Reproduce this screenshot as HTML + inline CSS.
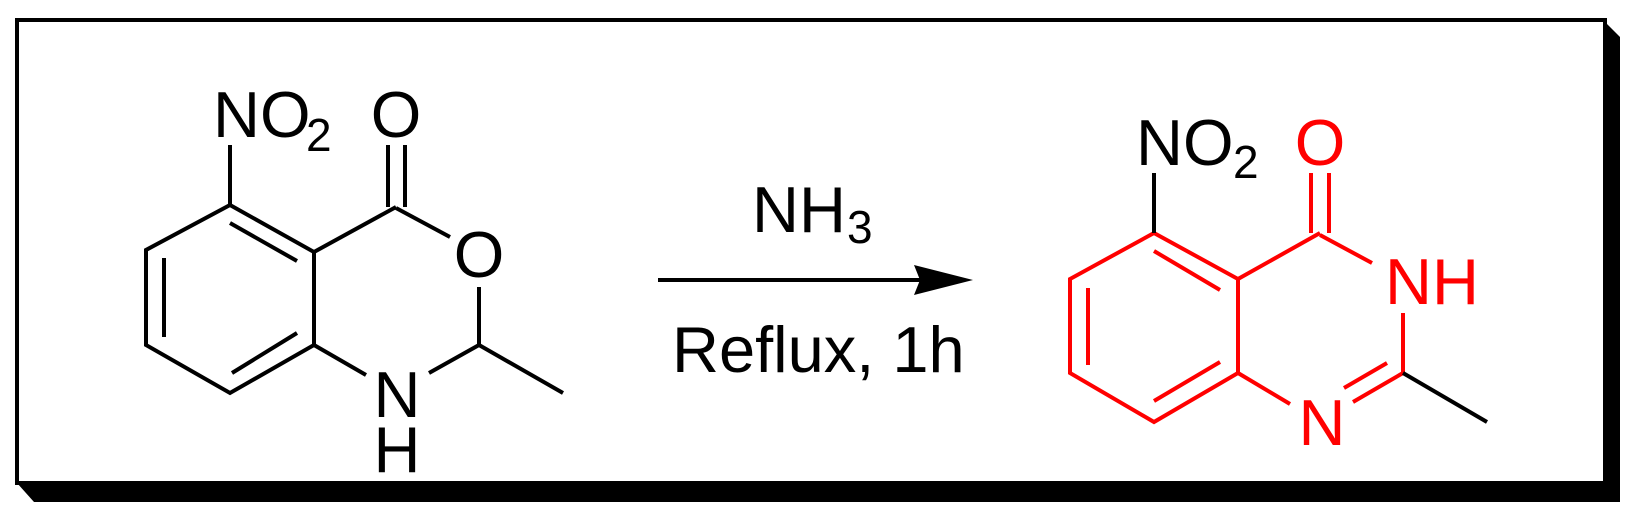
<!DOCTYPE html>
<html><head><style>
html,body{margin:0;padding:0;background:#fff;}
svg{display:block;}
text{font-family:"Liberation Sans",Arial,sans-serif;}
</style></head><body>
<svg width="1637" height="520" viewBox="0 0 1637 520" xmlns="http://www.w3.org/2000/svg">
<!-- frame -->
<rect x="17" y="20" width="1588" height="463" fill="none" stroke="#000" stroke-width="4"/>
<polygon points="17,483 1605,483 1605,22 1620,37 1620,502 34,502" fill="#000"/>
<g stroke="#000" stroke-width="4" stroke-linecap="butt" fill="none">
<!-- left molecule -->
<polyline points="230,205 314,252 314,345 230,393 146,345 146,250 230,205"/>
<line x1="230" y1="223" x2="297" y2="261"/>
<line x1="164" y1="258" x2="164" y2="337"/>
<line x1="297" y1="333" x2="232" y2="373"/>
<line x1="230" y1="145" x2="230" y2="205"/>
<line x1="314" y1="252" x2="396" y2="207"/>
<line x1="388" y1="145" x2="388" y2="207"/>
<line x1="405" y1="145" x2="405" y2="207"/>
<line x1="396" y1="208" x2="450" y2="237"/>
<line x1="479" y1="287" x2="479" y2="345"/>
<line x1="479" y1="345" x2="563" y2="393"/>
<line x1="479" y1="345" x2="429" y2="373"/>
<line x1="314" y1="345" x2="366" y2="375"/>
<!-- arrow -->
<line x1="658" y1="280" x2="920" y2="280"/>
</g>
<polygon points="914,265 973,280 914,295 920,280" fill="#000"/>
<g fill="#000" font-size="65">
<text x="213" y="137">NO</text><text x="306" y="151" font-size="46">2</text>
<text x="396" y="137" text-anchor="middle">O</text>
<text x="479" y="277" text-anchor="middle">O</text>
<text x="397" y="417" text-anchor="middle">N</text>
<text x="397" y="472" text-anchor="middle">H</text>
<text x="752" y="232">NH</text><text x="847" y="243" font-size="46">3</text>
<text x="672" y="372">Reflux, 1h</text>
<text x="1136" y="165">NO</text><text x="1233" y="178" font-size="46">2</text>
</g>
<!-- right molecule -->
<g stroke="#f00" stroke-width="4" fill="none">
<polyline points="1154,233 1238,279 1238,373 1154,422 1070,373 1070,279 1154,233"/>
<line x1="1154" y1="251" x2="1220" y2="290"/>
<line x1="1088" y1="288" x2="1088" y2="365"/>
<line x1="1220" y1="362" x2="1154" y2="401"/>
<line x1="1238" y1="279" x2="1320" y2="233"/>
<line x1="1311" y1="173" x2="1311" y2="233"/>
<line x1="1329" y1="173" x2="1329" y2="233"/>
<line x1="1320" y1="235" x2="1372" y2="263"/>
<line x1="1403" y1="313" x2="1403" y2="373"/>
<line x1="1403" y1="373" x2="1353" y2="402"/>
<line x1="1387" y1="363" x2="1344" y2="388"/>
<line x1="1238" y1="373" x2="1290" y2="404"/>
</g>
<g stroke="#000" stroke-width="4">
<line x1="1154" y1="173" x2="1154" y2="233"/>
<line x1="1403" y1="373" x2="1487" y2="422"/>
</g>
<g fill="#f00" font-size="65">
<text x="1320" y="165" text-anchor="middle">O</text>
<text x="1385" y="304">NH</text>
<text x="1322" y="445" text-anchor="middle">N</text>
</g>
</svg>
</body></html>
